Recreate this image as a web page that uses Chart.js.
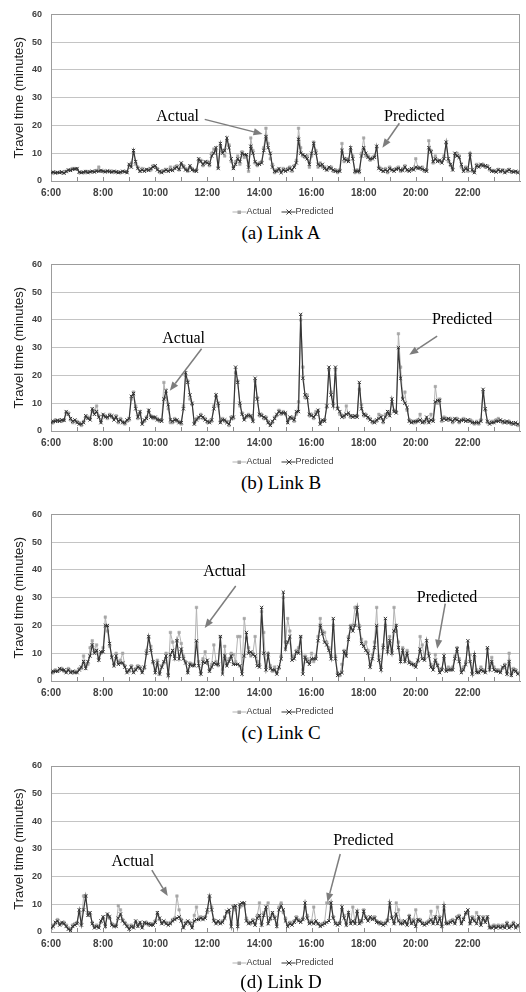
<!DOCTYPE html>
<html><head><meta charset="utf-8">
<script src="https://cdn.jsdelivr.net/npm/chart.js@4.4.1/dist/chart.umd.min.js"></script>
<style>
html,body{margin:0;padding:0;background:#fff;}
#wrap{position:relative;width:526px;height:992px;overflow:hidden;background:#fff;}
.panel{position:absolute;left:0;width:526px;}
.panel canvas{position:absolute;left:0;top:0;}
.cap{position:absolute;left:0;width:566px;margin-left:-2px;text-align:center;font-family:"Liberation Serif","Times New Roman",serif;font-size:19px;line-height:22px;color:#000;white-space:nowrap;}
</style></head>
<body>
<div id="wrap"></div>
<script>
// ---------------- data ----------------
// 5-minute intervals, 6:00 ... 23:55 (216 points per series)
const startHour = 6;
const stepMinutes = 5;
const tickHours  = [6, 8, 10, 12, 14, 16, 18, 20, 22];
const tickLabels = ["6:00","8:00","10:00","12:00","14:00","16:00","18:00","20:00","22:00"];
const yTicks = [0, 10, 20, 30, 40, 50, 60];
const seriesNames = ["Actual", "Predicted"];
const captions = ["(a) Link A", "(b) Link B", "(c) Link C", "(d) Link D"];

const predictedA = [
3,3.2,2.9,3.1,3,3.3,2.8,3.4,4,3.8,4.2,4.3,
4.5,3.2,3,3.2,3.4,3,3.3,3.5,3.2,3.6,3.5,3.8,
3.5,3.3,3.6,3.4,3.2,3.5,3.3,3,3.2,3.5,3.3,3,
6,5,11,7,4.5,3.5,4,3.5,4.2,3.8,4.5,5,
5.5,4,3.5,3,3.5,4,3.5,4,3.8,4.5,5,4.2,
6.5,5,4,3.8,5.5,4,3.8,3.5,8,7,6,7,
6.5,6,9,10,12,4.5,13.5,10,11,15.5,12,8,
4.5,6,8,7,10,9.5,9.5,5,12.5,10,7,6,
6,6.5,11,16,12,10,5,3.5,3.5,4.5,3,4,
3.5,4,4.5,4,5,6.5,15,10,9.5,9,8,6,
10,13.5,10,6,5.5,6,4.5,4,5,4.5,4,3.5,
3.5,3.5,11,8,7.5,7,12,8,3.5,3.5,3.5,9,
12,10,8.5,8,8,8.5,12.5,4.5,4,3.5,4,3.5,
4.5,4,3.5,4.2,4.5,4,3.8,5,4,3.5,4.5,4,
5,4.5,4.8,4.2,4,3.5,12,10.5,7,8,7,7.5,
6.5,8,14,8,6,4,10,9,8.5,6,3.5,4.5,
4,9.5,4,3,5.5,5,6,5.5,5.5,5,4.5,3.5,
3.5,3.2,4,3.5,3.8,3,3.5,4,3.5,3.2,3.5,3];
const actualA = [
3.2,3,3.1,3,3.2,3,3,3.5,3.8,4,4.5,4.4,
4.3,3,3.1,3,3.5,3.2,3.4,3.3,3.5,3.8,5,3.6,
3.4,3.5,3.4,3.6,3.3,3.4,3.2,3.2,3,3.4,3.5,3.2,
5.5,6.5,10,6,5,3.5,4.5,3.8,4,4.2,4,5.5,
5,4.5,3.2,3.5,3.8,4.2,3.8,5,4,5,5.5,4,
6,5.5,4.5,3.5,5,4.5,3.5,4,7.5,7.5,5.5,6.5,
7,5.5,10,11.5,11,5,12.5,11,9,14.5,13,7,
5,7,9,6,10.5,8.5,9,3.5,15.5,11,6.5,5.5,
6.5,7,12,19,13.5,8,6,3,4,4,3.5,4.5,
4,4.5,5,3.5,5.5,7.5,19,12,9,8.5,9,5,
9,14,11,5,6.5,5,5,4,4.5,5,3.5,4,
3,4,13.5,7,8,7.5,11,9,3,4,3,10,
15.5,9,9,7.5,8.5,9,12,5,4.5,3.5,4.5,3,
5,4,4,4.5,5,3.5,4.5,5.5,3.8,4,4,4.5,
8,5,4.5,5,3.5,4,14.5,11,6.5,9,7.5,7,
7,9,13.5,7,5.5,4.5,9,10,9,5,4,5,
3.5,10,3.5,3.5,6,5.5,5.5,6,5,5.5,4,3.8,
3.8,3.5,4.2,3.3,4,3.2,3.8,4.2,3.2,3.5,3.3,3.2];

const predictedB = [
3,3.5,3.5,3.8,3.5,4,3.8,7,6,4.5,3.5,4,
3,2.5,2.5,3,5.5,4.5,4,8,6,7,5,3,
6,5,5,5.5,5.5,4,5,3.5,4,3,3,4,
4.5,12.5,13.5,8,5,7,2.5,4,4.5,7.5,5,5,
5,4,4,3.5,11.5,14.5,9.5,4,3.5,4,4,3,
3,8,21,17.5,13,10,2.5,4,5,5.5,5,4,
3.5,3,4,8,13,10,3,4,4,3,2.5,4.5,
5,23,17.5,10,6,4,5.5,5.5,5.5,3.5,19,11.5,
6,5.5,5,4.5,3,2,3.5,4.5,6,7,6.5,6.5,
6.5,3,5,4.5,4,7,7,42,19,13,12,6,
5.5,5,6,7.5,2.5,4,3.5,9,23,13,9,23,
8,7,5,5.5,6,6.5,5.5,5,5.5,5,17.5,8,
6,5.5,5,4,3.5,3,4,4.5,5,3.5,5,7,
5.5,11.5,7,6.5,30,19,11.5,10,8.5,3.5,3,3.5,
3.5,3.5,4,3,3.5,5,3,4,3.5,10.5,11,11,
4,4.5,4,4.5,4,3.5,4.5,4,3.5,3.8,4,3.5,
4,3.5,3,3,3,3,3.5,15,8,3.5,2.5,3,
3,3.5,3.5,4,3.5,3,3.5,3,3,2.5,3,2.5];
const actualB = [
3.5,3,4,3.5,4,3.5,4,6.5,6.5,4,3,3.5,
3.5,3,2,3.5,5,5,4.5,7,7.5,9,5.5,3.5,
5.5,5.5,4.5,6,5,4.5,5.5,3,4.5,3.5,2.5,3.5,
4,11.5,14,9,4.5,6.5,3,3.5,5,7,5.5,4.5,
4.5,4.5,3.5,4,17.5,12,8,3,3,4.5,3.5,3.5,
2.5,9,20,18,11.5,9.5,3,4.5,4.5,6,4.5,4.5,
3,3.5,3.5,9,12.5,9,3.5,4.5,3.5,3.5,2,5,
4.5,21,18,9,6.5,4.5,5,6,5,4,18,12,
5.5,6,4.5,5,3.5,2.5,3,5,5.5,7.5,6,7,
6,3.5,4.5,5,3.5,6,10.5,40,23,12,13,5.5,
6,4.5,7,7,3,3.5,4,8.5,22,14,10,22,
8.5,6,5.5,5,9,6,5,5.5,5,5.5,15,9.5,
5.5,6,4.5,4.5,3,3.5,3.5,6,5.5,3,6,6,
6.5,10,7.5,7,35,23,12,14,7.5,4,3.5,3,
3,4,6,3.5,3,4,3.5,6,4,16,10,11.5,
3.5,5,4.5,4,4.5,3,4,4.5,3,4,4.5,4,
3.5,4,3.5,2.5,3.5,2.5,4,14,7.5,3,3,3.5,
3.5,4,4.5,3.5,3,3.5,3,3.5,2.5,3,2.5,2];

const predictedC = [
3,3.5,3.5,3.5,4.5,4,4,3,4,3,3.5,3,
3,4,5,7,4.5,7,9,13,10,11,7.5,10.5,
10.5,20,20,13.5,8.5,5.5,9,6,6.5,6.5,5,3,
4,5,3,4,5,4.5,3,5,10,16,11,7,
3,6.5,2.5,5,7,9,2,9.5,11,8,14.5,8,
11.5,8,6.5,3,6,5.5,5.5,14.5,5.5,2.5,7,6.5,
7.5,3.5,5,6.5,6,6,16,2.5,9,5.5,7,9,
6,6,6,5.5,2.5,9,17.5,10,10.5,9.5,9,5.5,
5,26.5,10,4,9.5,4.5,4,4,2.5,5,8,32,
11.5,14,16,7.5,8,10.5,10,16,2.5,8.5,7,6,
8,8,8,14.5,20,17,14,13,11,8,22.5,8,
2,2.5,3,10.5,9,15,19.5,18,20,26.5,19,13.5,
12.5,11,10,5,8,12,20,7.5,4,12,22.5,10.5,
14.5,10,18,20,12,7,11,7,10,6.5,6,6,
5,7.5,11.5,8,7.5,14.5,9,5,4,7.5,5.5,3,
4,9,3.5,4,4,4,8,11.5,7,3,4,6,
14.5,7,2.5,9.5,3,3,4,3.5,3,12,4,7,
4,3.5,3.5,3,5,5.5,2.5,7,2,4,3.5,2.5];
const actualC = [
3.5,3,4,3.5,4,4.5,3.5,3.5,4.5,3.5,3,3.5,
3.5,4.5,4.5,9,5.5,6,12,14.5,11,13,8,10,
12,23,18,12.5,9,6,10,7,7.5,10,5.5,3.5,
3.5,5.5,3.5,4.5,5.5,5,3.5,4.5,11,15.5,12.5,6.5,
4,7.5,3,5.5,6.5,10,2.5,17.5,14,9,14.5,17.5,
13.5,9,7,3.5,6.5,6,6,26.5,7,3,8,10.5,
6.5,4,6,13,7,5.5,16,4,12.5,6,8,10,
9.5,7,16,16,4,22.5,15.5,12,9,10,16,7,
6,25,17.5,5,10,5.5,3.5,5,3,4.5,9,30,
14,22.5,18,9,9,11,12,16,4,9,8,7,
10,7,9,16,22.5,18,17.5,14,12,9,20,9,
3,2,6,11,10,16,20,20,26.5,24,20,15,
13,14,11,6,9.5,14,26.5,9,5,13,20,12,
16,11,26.5,18,14,8,12,8,11,7,6.5,5.5,
6,7,16,13,8,12,10,6,5,9.5,6,4,
4.5,8,4,5,4.5,5,9,12,8,4,5,7,
12,9.5,3,8.5,4,3.5,5,4,3.5,11.5,5,8.5,
5,4,4,3.5,4.5,6,3,10,2.5,4.5,4,3];

const predictedD = [
1.5,2,3.5,4,2.5,3.5,3,2,1,0.5,2,2.5,
3,8,2.5,8,13,6,7,3,1.5,2,1.5,4,
5.5,2,6.5,5.5,2.5,2,2,5,6.5,4,3,2,
1,2,1.5,4,2,3.5,1.5,3.5,3,3,2.5,2.5,
3.5,7,5,3,4,3,2.5,3,4,4.5,5,5.5,
4,1.5,3,4,3,1.5,4,4.5,4.5,5,4.5,5,
8,13,8,4,3,4,3,3.5,5,7.5,8,2,
9,9.5,2,10,10.5,10.5,4,3,3.5,4,2.5,5,
6,2.5,6,9,3,5,7,5,2,8,9.5,8,
4,2,3,2.5,3.5,5,4,3.5,4.5,10.5,5,3,
3.5,3,4,3,2,2.5,3,3.5,4,10.5,5,3,
2.5,3,9,5,2.5,7,3,4,3,7.5,3,4,
7.5,5,4,5.5,4.5,5,3.5,3.5,3,2.5,3,4,
10.5,5,3,6.5,4,3,3,4,2.5,5.5,3,4,
2,4.5,4,3,2.5,3,3.5,4.5,3,5.5,3,5,
2,9.5,3,3,3.5,4,3,5,5.5,3,4.5,7,
8,3,5,4,3,5.5,2.5,5,3.5,5.5,1.5,1.5,
2,1.5,2,1.5,2,1.5,3,1.5,2,3,1.5,2.5];
const actualD = [
1.5,2.5,3,4.5,3,3,3.5,2.5,1.5,1,2.5,3,
3.5,7,3,13,13,7,6,3.5,2,2.5,2,3.5,
5,2.5,6,5,3,2.5,2.5,9.5,8,4.5,3.5,2.5,
1.5,2.5,2,3.5,2.5,3,2,3,3.5,2.5,3,3,
4,6.5,4.5,3.5,3.5,3.5,3,3.5,4.5,5,13,8,
4.5,2,3.5,3.5,3.5,2,6,9,5,5.5,5,5.5,
7,12.5,9,4.5,3.5,3.5,3.5,4,5.5,7,7,3,
9.5,8,3,9,9.5,10,5,3.5,3,4.5,3,6,
10.5,3,7,8,10.5,4.5,6.5,5.5,3,9,10.5,7,
5,2.5,3.5,3,4,5.5,4.5,4,5,9,6,3.5,
4,9,3.5,3,2.5,3,3.5,10.5,10.5,9,5.5,3.5,
3,3.5,8,6,3,6.5,3.5,9,3.5,7,4,3.5,
8,5.5,4.5,5,5,5.5,4,3,3.5,3,3.5,4.5,
9,5.5,3.5,10.5,8,3.5,4,3.5,3,6,3.5,4.5,
8,4,4.5,3.5,3,3.5,4,7.5,3.5,5,9,5.5,
2.5,8,3.5,3.5,4,4.5,3.5,5.5,6,3.5,5,6.5,
7,3.5,5.5,4.5,7,5,3,5.5,4,5,2,2,
2.5,2,2.5,2,2.5,2,3.5,2,2.5,3.5,2,2];

// annotation callouts: [label, textX(h), textY(min), fromX, fromY, toX, toY] in data units
const notesA = [["Actual", 10.86, 23.3, 11.9, 22.2, 14.12, 16.9], ["Predicted", 19.94, 23.3, 19.37, 20.8, 18.72, 12.0]];
const notesB = [["Actual", 11.09, 33.2, 11.78, 29.6, 10.56, 14.5], ["Predicted", 21.78, 39.9, 20.82, 34.2, 19.75, 27.5]];
const notesC = [["Actual", 12.66, 39.2, 13.09, 34.2, 11.9, 19.1], ["Predicted", 21.2, 30.0, 21.13, 27.9, 20.82, 11.6]];
const notesD = [["Actual", 9.14, 25.3, 9.87, 22.4, 10.48, 13.0], ["Predicted", 17.99, 32.9, 17.1, 28.2, 16.61, 10.8]];

// ---------------- drawing ----------------
const SANS = '"Liberation Sans", Arial, sans-serif';
const SERIF = '"Liberation Serif", "Times New Roman", serif';
const ACT_LINE = '#b3b3b3', ACT_MARK = '#a6a6a6', PRED = '#363636', LABEL = '#404040';

const timeAxis = actualA.map((_, i) => startHour + i * stepMinutes / 60);

function arrow(ctx, x1, y1, x2, y2) {
  const ang = Math.atan2(y2 - y1, x2 - x1), L = 9, W = 3.6;
  const bx = x2 - L * Math.cos(ang), by = y2 - L * Math.sin(ang);
  ctx.beginPath(); ctx.moveTo(x1, y1); ctx.lineTo(bx, by); ctx.stroke();
  ctx.beginPath(); ctx.moveTo(x2, y2);
  ctx.lineTo(bx + W * Math.sin(ang), by - W * Math.cos(ang));
  ctx.lineTo(bx - W * Math.sin(ang), by + W * Math.cos(ang));
  ctx.closePath(); ctx.fill();
}

const decor = {
  id: 'decor',
  beforeDatasetsDraw(chart) {
    const {ctx, chartArea: a, scales: {x}} = chart;
    ctx.save();
    ctx.strokeStyle = '#9c9c9c'; ctx.lineWidth = 1;
    ctx.strokeRect(Math.round(a.left) + 0.5, Math.round(a.top) + 0.5, Math.round(a.right - a.left) - 1, Math.round(a.bottom - a.top));
    ctx.strokeStyle = '#8a8a8a';
    for (let h = startHour + 1; h < 24; h++) {
      const px = Math.round(x.getPixelForValue(h)) + 0.5;
      ctx.beginPath(); ctx.moveTo(px, a.bottom); ctx.lineTo(px, a.bottom - 4); ctx.stroke();
    }
    ctx.restore();
  },
  afterDraw(chart, args, opts) {
    const {ctx, chartArea: a, scales: {x, y}} = chart;
    ctx.save();
    // legend
    const cx = (a.left + a.right) / 2, ly = a.bottom + 31;
    ctx.font = '9px ' + SANS; ctx.textBaseline = 'middle'; ctx.textAlign = 'left';
    ctx.lineWidth = 1;
    ctx.strokeStyle = ACT_LINE; ctx.beginPath(); ctx.moveTo(cx - 53, ly); ctx.lineTo(cx - 39, ly); ctx.stroke();
    ctx.fillStyle = ACT_MARK; ctx.fillRect(cx - 48, ly - 1.5, 3.5, 3.5);
    ctx.fillStyle = LABEL; ctx.fillText(seriesNames[0], cx - 39, ly);
    ctx.strokeStyle = PRED; ctx.beginPath(); ctx.moveTo(cx - 4, ly); ctx.lineTo(cx + 10, ly); ctx.stroke();
    ctx.beginPath(); ctx.moveTo(cx + 1, ly - 2.5); ctx.lineTo(cx + 6, ly + 2.5); ctx.moveTo(cx + 1, ly + 2.5); ctx.lineTo(cx + 6, ly - 2.5); ctx.stroke();
    ctx.fillStyle = LABEL; ctx.fillText(seriesNames[1], cx + 10, ly);
    // callouts
    ctx.font = '16px ' + SERIF; ctx.textAlign = 'center'; ctx.fillStyle = '#000';
    ctx.strokeStyle = '#7d7d7d'; ctx.lineWidth = 1.5;
    for (const n of opts.notes) {
      ctx.fillStyle = '#000';
      ctx.fillText(n[0], x.getPixelForValue(n[1]), y.getPixelForValue(n[2]));
      ctx.fillStyle = '#7d7d7d';
      arrow(ctx, x.getPixelForValue(n[3]), y.getPixelForValue(n[4]), x.getPixelForValue(n[5]), y.getPixelForValue(n[6]));
    }
    ctx.restore();
  }
};

const panels = [
  {top: 0,   padTop: 11, actual: actualA, predicted: predictedA, notes: notesA, caption: captions[0], capTop: 222},
  {top: 250, padTop: 11, actual: actualB, predicted: predictedB, notes: notesB, caption: captions[1], capTop: 222},
  {top: 500, padTop: 11, actual: actualC, predicted: predictedC, notes: notesC, caption: captions[2], capTop: 222},
  {top: 750, padTop: 16, actual: actualD, predicted: predictedD, notes: notesD, caption: captions[3], capTop: 221}
];

const wrap = document.getElementById('wrap');
panels.forEach(p => {
  const div = document.createElement('div');
  div.className = 'panel'; div.style.top = p.top + 'px'; div.style.height = '250px';
  const cv = document.createElement('canvas');
  cv.width = 526; cv.height = 222; cv.style.width = '526px'; cv.style.height = '222px';
  div.appendChild(cv);
  const cap = document.createElement('div');
  cap.className = 'cap'; cap.style.top = p.capTop + 'px'; cap.textContent = p.caption;
  div.appendChild(cap);
  wrap.appendChild(div);

  const padBottom = 222 - 20 - (p.padTop === 11 ? 181 : 182);
  new Chart(cv, {
    type: 'line',
    data: {
      datasets: [
        {label: seriesNames[1], order: 0, data: p.predicted.map((v, i) => ({x: timeAxis[i], y: v})),
         borderColor: PRED, borderWidth: 1.2, pointStyle: 'crossRot', pointRadius: 2.3, pointBorderColor: PRED,
         pointBorderWidth: 1, pointBackgroundColor: PRED, tension: 0},
        {label: seriesNames[0], order: 1, data: p.actual.map((v, i) => ({x: timeAxis[i], y: v})),
         borderColor: ACT_LINE, borderWidth: 1, pointStyle: 'rect', pointRadius: 1.8, pointBorderColor: ACT_MARK,
         pointBorderWidth: 0.5, pointBackgroundColor: ACT_MARK, tension: 0}
      ]
    },
    options: {
      responsive: false, animation: false, devicePixelRatio: 1, events: [],
      layout: {padding: {left: 0, right: 5, top: p.padTop, bottom: padBottom}},
      plugins: {legend: {display: false}, tooltip: {enabled: false}, decor: {notes: p.notes}},
      scales: {
        x: {
          type: 'linear', min: startHour, max: 24,
          afterFit(s) { s.height = 20; },
          grid: {display: false, drawTicks: false},
          border: {display: true, color: '#878787'},
          ticks: {stepSize: 1, autoSkip: false, maxRotation: 0, padding: 6, color: LABEL,
                  font: {family: SANS, size: 10, weight: 'bold'},
                  callback: v => { const k = tickHours.indexOf(v); return k >= 0 ? tickLabels[k] : ''; }}
        },
        y: {
          min: yTicks[0], max: yTicks[yTicks.length - 1],
          afterFit(s) { s.width = 51; },
          afterBuildTicks(s) { s.ticks = yTicks.map(v => ({value: v})); },
          grid: {color: '#c4c4c4', drawTicks: false},
          border: {display: false},
          ticks: {padding: 9, color: LABEL, font: {family: SANS, size: 9, weight: 'bold'}},
          title: {display: true, text: 'Travel time (minutes)', color: '#1e1e1e',
                  font: {family: SANS, size: 13}, padding: {top: 12, bottom: 0}}
        }
      }
    },
    plugins: [decor]
  });
});
</script>
</body></html>
